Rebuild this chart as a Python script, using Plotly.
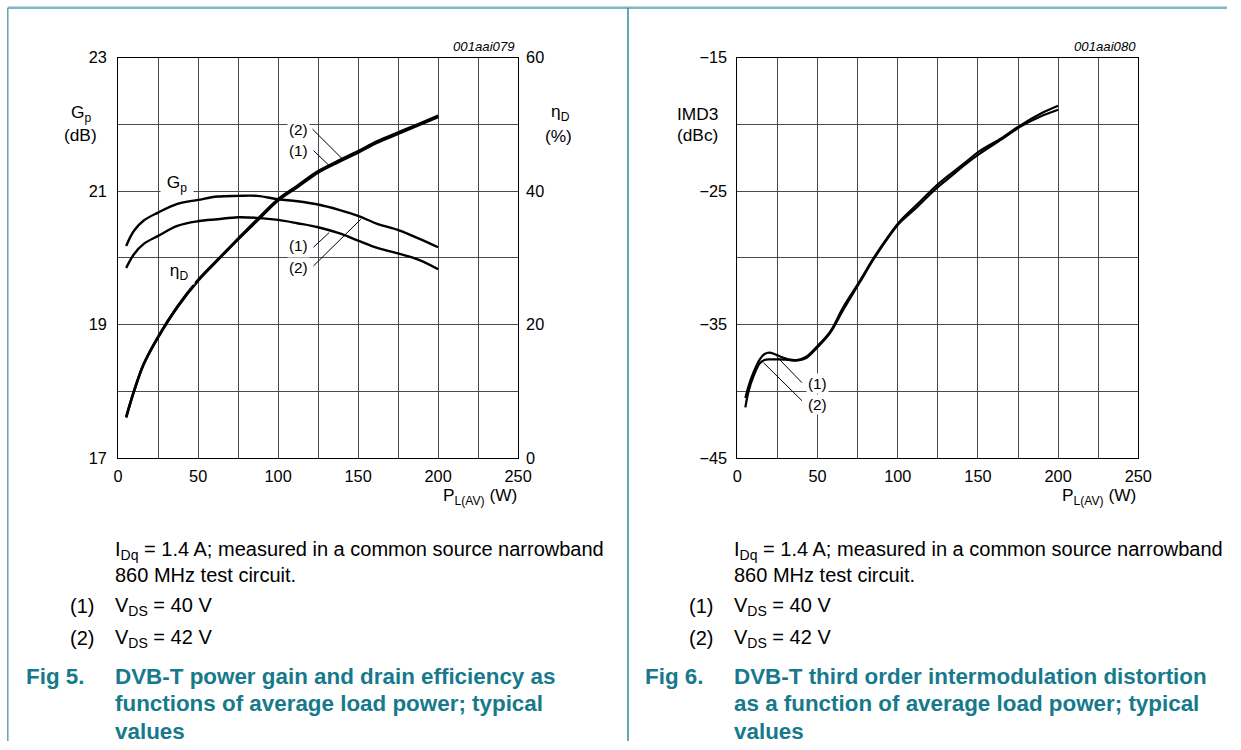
import plotly.graph_objects as go

PAGE_W, PAGE_H = 1241, 750
# measured mapping between page pixels and the photographed picture: pic = S * page + B
SX, BX = 0.986, 4.2
SY, BY = 0.9765, 8.2
FS = 1 / ((SX + SY) / 2)   # font compensation

# ---------------- data ----------------
# Fig 5: power gain Gp (dB) and drain efficiency etaD (%) vs P_L(AV) (W)
gp_power = [5, 10, 16, 25, 37, 50, 62, 75, 87, 100, 112, 125, 138, 150, 162, 176, 188, 200]
gp_vds42 = [20.18, 20.41, 20.56, 20.68, 20.81, 20.87, 20.92, 20.93, 20.93, 20.88, 20.85, 20.80,
            20.72, 20.63, 20.51, 20.41, 20.29, 20.16]
gp_vds40 = [19.85, 20.06, 20.21, 20.33, 20.48, 20.55, 20.58, 20.61, 20.60, 20.57, 20.52, 20.46,
            20.37, 20.26, 20.15, 20.06, 19.97, 19.83]

eta_power = [5, 10, 16, 25, 37, 50, 62, 75, 87, 100, 112, 125, 138, 150, 162, 175, 188, 200]
eta_vds40 = [6.1, 10.1, 14.1, 18.1, 22.6, 26.6, 29.6, 32.8, 35.6, 38.6, 40.6, 42.8, 44.4, 45.8,
             47.3, 48.6, 49.9, 51.1]
eta_vds42 = [6.1, 10.1, 14.1, 18.2, 22.7, 26.7, 29.7, 32.9, 35.8, 38.8, 40.8, 43.0, 44.6, 46.0,
             47.5, 48.8, 50.1, 51.3]

# Fig 6: IMD3 (dBc) vs P_L(AV) (W)
imd_power = [5, 7, 10, 14, 17, 20, 23, 27, 32, 37, 43, 50, 58, 66, 76, 85, 94, 101, 112, 123,
             132, 142, 151, 165, 176, 189, 200]
imd_vds40 = [-40.5, -39.6, -38.6, -37.6, -37.2, -37.1, -37.2, -37.4, -37.6, -37.65, -37.4, -36.6,
             -35.5, -33.7, -31.8, -30.0, -28.4, -27.3, -26.0, -24.7, -23.8, -22.85, -22.0, -21.0,
             -20.1, -19.2, -18.6]
imd_vds42 = [-41.2, -40.0, -38.9, -37.9, -37.65, -37.6, -37.6, -37.6, -37.65, -37.7, -37.5, -36.7,
             -35.6, -33.9, -31.9, -30.1, -28.5, -27.4, -26.2, -24.9, -24.0, -23.0, -22.2, -21.1,
             -20.2, -19.4, -18.9]

x_ticks = [0, 25, 50, 75, 100, 125, 150, 175, 200, 225, 250]
x_ticktext = ["0", "", "50", "", "100", "", "150", "", "200", "", "250"]
gp_ticks = [17, 18, 19, 20, 21, 22, 23]
gp_ticktext = ["17", "", "19", "", "21", "", "23"]
eta_ticks = [0, 20, 40, 60]
eta_ticktext = ["0", "20", "40", "60"]
imd_ticks = [-45, -40, -35, -30, -25, -20, -15]
imd_ticktext = ["\u221245", "", "\u221235", "", "\u221225", "", "\u221215"]

# ---------------- layout helpers ----------------
FONT = "Liberation Sans, Arial, sans-serif"
TEAL = "#17798c"
GRID = "#4a4a4a"


def px(x):
    return ((x - BX) / SX) / PAGE_W


def py(y):
    return 1 - ((y - BY) / SY) / PAGE_H


def fs(s):
    return round(s * FS, 1)


fig = go.Figure()

fig.add_trace(go.Scatter(x=gp_power, y=gp_vds42, mode="lines", line=dict(color="black", width=2.4, shape="spline"),
                         xaxis="x", yaxis="y", name="Gp (2)"))
fig.add_trace(go.Scatter(x=gp_power, y=gp_vds40, mode="lines", line=dict(color="black", width=2.4, shape="spline"),
                         xaxis="x", yaxis="y", name="Gp (1)"))
fig.add_trace(go.Scatter(x=eta_power, y=eta_vds40, mode="lines", line=dict(color="black", width=2.6, shape="spline"),
                         xaxis="x", yaxis="y2", name="etaD (1)"))
fig.add_trace(go.Scatter(x=eta_power, y=eta_vds42, mode="lines", line=dict(color="black", width=2.6, shape="spline"),
                         xaxis="x", yaxis="y2", name="etaD (2)"))
fig.add_trace(go.Scatter(x=imd_power, y=imd_vds40, mode="lines", line=dict(color="black", width=2.2, shape="spline"),
                         xaxis="x2", yaxis="y3", name="IMD3 (1)"))
fig.add_trace(go.Scatter(x=imd_power, y=imd_vds42, mode="lines", line=dict(color="black", width=2.2, shape="spline"),
                         xaxis="x2", yaxis="y3", name="IMD3 (2)"))

axis_common = dict(showline=True, linecolor="black", linewidth=1, mirror=True,
                   showgrid=True, gridcolor=GRID, gridwidth=1, zeroline=False,
                   ticks="", tickfont=dict(family=FONT, size=fs(16), color="black"),
                   fixedrange=True)

plot_top, plot_bot = 57, 457.5
fig.update_layout(
    width=PAGE_W, height=PAGE_H,
    margin=dict(l=0, r=0, t=0, b=0),
    paper_bgcolor="white", plot_bgcolor="white",
    showlegend=False,
    font=dict(family=FONT, size=16, color="black"),
    xaxis=dict(axis_common, domain=[px(117.5), px(518)], range=[0, 250],
               tickvals=x_ticks, ticktext=x_ticktext, anchor="y", ticklabelstandoff=3),
    yaxis=dict(axis_common, domain=[py(plot_bot), py(plot_top)], range=[17, 23],
               tickvals=gp_ticks, ticktext=gp_ticktext, anchor="x", ticklabelstandoff=7),
    yaxis2=dict(axis_common, range=[0, 60], tickvals=eta_ticks, ticktext=eta_ticktext,
                overlaying="y", side="right", anchor="x", showgrid=False, showline=False,
                ticklabelstandoff=7),
    xaxis2=dict(axis_common, domain=[px(737.5), px(1139)], range=[0, 250],
                tickvals=x_ticks, ticktext=x_ticktext, anchor="y3", ticklabelstandoff=3),
    yaxis3=dict(axis_common, domain=[py(plot_bot), py(plot_top)], range=[-45, -15],
                tickvals=imd_ticks, ticktext=imd_ticktext, anchor="x2", ticklabelstandoff=6),
)

shapes = []
# page frame lines
shapes.append(dict(type="line", xref="paper", yref="paper", x0=px(7), x1=1, y0=py(7), y1=py(7),
                   line=dict(color="#7fb8c4", width=2.5)))
shapes.append(dict(type="line", xref="paper", yref="paper", x0=px(7), x1=px(7), y0=py(7), y1=0,
                   line=dict(color="#6b9fae", width=1.5)))
shapes.append(dict(type="line", xref="paper", yref="paper", x0=px(628), x1=px(628), y0=py(7), y1=0,
                   line=dict(color="#2e8aa3", width=1.5)))

# leader lines, Fig 5 (data coordinates of the Gp axis)
leaders5 = [((121.5, 21.93), (140.3, 21.48)),
            ((122.1, 21.61), (132.5, 21.37)),
            ((122.1, 20.16), (131.9, 20.38)),
            ((122.1, 19.88), (151.7, 20.58))]
for (a, b) in leaders5:
    shapes.append(dict(type="line", xref="x", yref="y", x0=a[0], y0=a[1], x1=b[0], y1=b[1],
                       line=dict(color="black", width=1)))
leaders6 = [((40.3, -39.35), (24.6, -37.4)),
            ((40.3, -40.7), (16.3, -37.85))]
for (a, b) in leaders6:
    shapes.append(dict(type="line", xref="x2", yref="y3", x0=a[0], y0=a[1], x1=b[0], y1=b[1],
                       line=dict(color="black", width=1)))
fig.update_layout(shapes=shapes)

ann = []


def text(x, y, s, size=16, xanchor="center", color="black", bold=False, italic=False,
         xref="paper", yref="paper", bg=None):
    st = s
    if bold:
        st = "<b>" + st + "</b>"
    if italic:
        st = "<i>" + st + "</i>"
    d = dict(x=x, y=y, xref=xref, yref=yref, text=st, showarrow=False, xanchor=xanchor,
             yanchor="middle", font=dict(family=FONT, size=fs(size), color=color))
    if bg:
        d.update(bgcolor=bg, borderpad=1)
    ann.append(d)


# Fig 5 labels
text(px(517), py(46), "001aai079", size=13, xanchor="right", italic=True)
text(px(80), py(113), "G<sub>p</sub>", size=17)
text(px(80), py(134), "(dB)", size=17)
text(px(560), py(112), "\u03b7<sub>D</sub>", size=17)
text(px(558), py(135), "(%)", size=17)
text(px(519), py(496), "P<sub>L(AV)</sub> (W)", xanchor="right", size=17)
text(113, 21.93, "(2)", size=15, xref="x", yref="y", bg="white")
text(113, 21.61, "(1)", size=15, xref="x", yref="y", bg="white")
text(113, 20.19, "(1)", size=15, xref="x", yref="y", bg="white")
text(113, 19.85, "(2)", size=15, xref="x", yref="y", bg="white")
text(36.7, 21.12, " G<sub>p</sub> ", size=17, xref="x", yref="y", bg="white")
text(38, 19.8, " \u03b7<sub>D</sub> ", size=17, xref="x", yref="y", bg="white")

# Fig 6 labels
text(px(1139), py(46), "001aai080", size=13, xanchor="right", italic=True)
text(px(698), py(113), "IMD3", size=17)
text(px(698), py(134), "(dBc)", size=17)
text(px(1139), py(496), "P<sub>L(AV)</sub> (W)", xanchor="right", size=17)
text(49.8, -39.4, "(1)", size=15, xref="x2", yref="y3", bg="white")
text(49.8, -41.0, "(2)", size=15, xref="x2", yref="y3", bg="white")

# captions
CAP = 19.6
for off, fig_no, title_lines in [
    (0, "Fig 5.", ["DVB-T power gain and drain efficiency as",
                   "functions of average load power; typical", "values"]),
    (620, "Fig 6.", ["DVB-T third order intermodulation distortion",
                     "as a function of average load power; typical", "values"]),
]:
    text(px(112 + off), py(550), "I<sub>Dq</sub> = 1.4 A; measured in a common source narrowband",
         size=CAP, xanchor="left")
    text(px(112 + off), py(574), "860 MHz test circuit.", size=CAP, xanchor="left")
    text(px(67.5 + off), py(606), "(1)", size=CAP, xanchor="left")
    text(px(112 + off), py(606), "V<sub>DS</sub> = 40 V", size=CAP, xanchor="left")
    text(px(67.5 + off), py(638), "(2)", size=CAP, xanchor="left")
    text(px(112 + off), py(638), "V<sub>DS</sub> = 42 V", size=CAP, xanchor="left")
    text(px(23 + off), py(676), fig_no, size=22, xanchor="left", color=TEAL, bold=True)
    for i, line in enumerate(title_lines):
        text(px(112 + off), py(676 + 27.5 * i), line, size=22, xanchor="left", color=TEAL, bold=True)

fig.update_layout(annotations=ann)

fig.write_html("out.html", config={"displayModeBar": False},
               post_script="document.body.style.margin='0';document.body.style.overflow='hidden';")
